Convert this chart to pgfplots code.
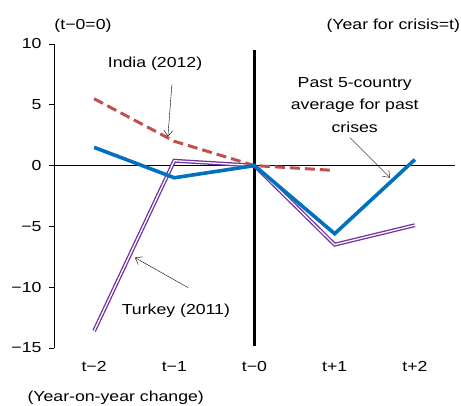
\documentclass[border=0pt]{standalone}
\usepackage{pgfplots}
\pgfplotsset{compat=1.18}
\usepackage{fontspec}
\setmainfont{Liberation Sans}[FakeStretch=1.22]
\usetikzlibrary{arrows.meta}
\definecolor{avgblue}{RGB}{0,112,192}
\definecolor{indred}{RGB}{192,80,77}
\definecolor{turpurple}{RGB}{112,48,160}

\begin{document}
\begin{tikzpicture}[x=1pt,y=1pt,font=\fontsize{14.5}{17}\selectfont]
\useasboundingbox (-54,-57) rectangle (407,348);
\begin{axis}[
    at={(0,0)}, anchor=south west,
    scale only axis,
    width=401pt, height=304pt,
    xmin=-2.5, xmax=2.5,
    ymin=-15, ymax=10,
    axis y line*=left, axis x line*=bottom,
    x axis line style={draw=none},
    xtick={-2,-1,0,1,2},
    xticklabels={t−2,t−1,t−0,t+1,t+2},
    xtick style={draw=none},
    xticklabel style={yshift=-5pt},
    ytick={-15,-10,-5,0,5,10},
    yticklabels={−15,−10,−5,0,5,10},
    yticklabel style={xshift=-4pt},
    tick align=outside,
    major tick length=5pt,
    tick style={black, line width=0.8pt},
    axis line style={black, line width=0.8pt},
    ticklabel style={font=\fontsize{14.5}{17}\selectfont},
    clip=false,
]
% zero line and crisis year
\draw[black, line width=0.8pt] (axis cs:-2.5,0) -- (axis cs:2.5,0);
\draw[black, line width=3.5pt] (axis cs:0,9.5) -- (axis cs:0,-14.8);
% Turkey (2011)
\addplot[turpurple, line width=1.3pt, double=white, double distance=1.3pt, mark=none]
  coordinates {(-2,-13.6) (-1,0.4) (0,0) (1,-6.5) (2,-4.9)};
% India (2012)
\addplot[indred, line width=3pt, dash pattern=on 10pt off 5pt, mark=none]
  coordinates {(-2,5.5) (-1,2.0) (0,0) (1,-0.4)};
% Past 5-country average
\addplot[avgblue, line width=3.6pt, mark=none]
  coordinates {(-2,1.5) (-1,-1.0) (0,0) (1,-5.6) (2,0.5)};
% labels and arrows
\node at (axis cs:-1.24,8.35) {India (2012)};
\draw[-{Straight Barb[length=6pt,width=9pt]}, thin] (axis cs:-1.03,6.66) -- (axis cs:-1.08,2.38);
\node[align=center, font=\fontsize{14.5}{22.5}\selectfont] at (axis cs:1.25,5.0) {Past 5-country\\average for past\\crises};
\draw[-{Straight Barb[length=6pt,width=9pt]}, thin] (axis cs:1.19,2.3) -- (axis cs:1.69,-0.99);
\node at (axis cs:-0.98,-11.9) {Turkey (2011)};
\draw[-{Straight Barb[length=6pt,width=9pt]}, thin] (axis cs:-0.83,-10.03) -- (axis cs:-1.49,-7.57);
\end{axis}
\node at (29,322) {(t−0=0)};
\node[anchor=west] at (269,322) {(Year for crisis=t)};
\node[anchor=west] at (-30,-50) {(Year-on-year change)};
\end{tikzpicture}
\end{document}
